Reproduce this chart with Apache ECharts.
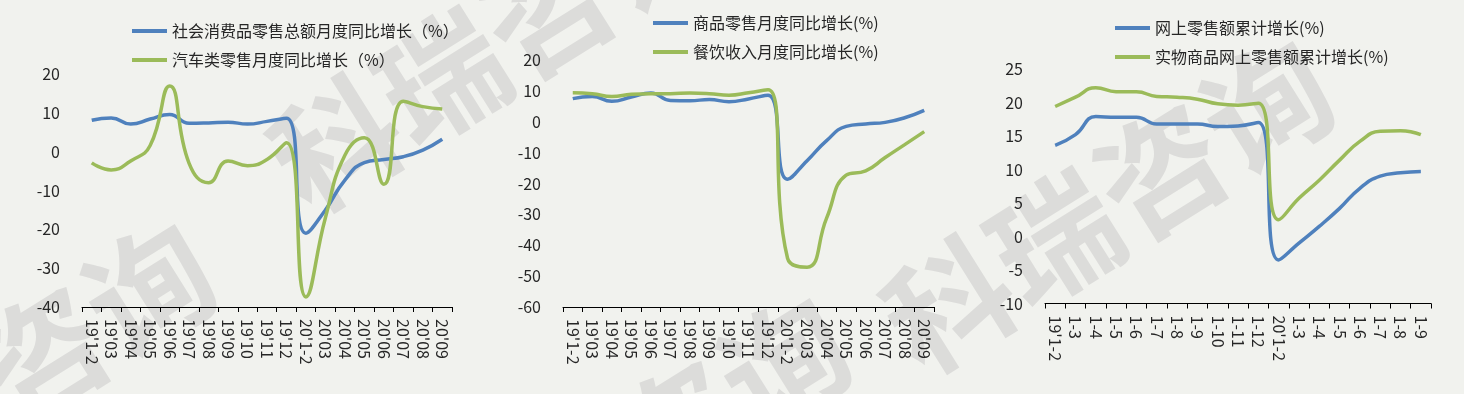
<!DOCTYPE html>
<html><head><meta charset="utf-8">
<script src="https://cdn.jsdelivr.net/npm/echarts@6/dist/echarts.min.js"></script>
<style>html,body{margin:0;padding:0;background:#f1f2ee}#c{width:1464px;height:394px}</style>
</head><body><div id="c"></div>
<script>
// Categories
const cats1 = ["19'1-2","19'03","19'04","19'05","19'06","19'07","19'08","19'09","19'10","19'11","19'12","20'1-2","20'03","20'04","20'05","20'06","20'07","20'08","20'09"];
const cats2 = cats1.slice();
const cats3 = ["19'1-2","1-3","1-4","1-5","1-6","1-7","1-8","1-9","1-10","1-11","1-12","20'1-2","1-3","1-4","1-5","1-6","1-7","1-8","1-9"];
// Panel 1
const retailTotal = [8.1, 8.7, 7.1, 8.4, 9.6, 7.3, 7.4, 7.6, 7.1, 7.8, 8.6, -21.0, -15.0, -7.3, -2.8, -2.0, -1.3, 0.4, 3.2];
const autoRetail = [-2.9, -4.7, -2.4, 1.6, 16.9, -3.0, -8.0, -2.4, -3.6, -2.0, 2.3, -37.4, -17.0, -0.9, 3.6, -8.4, 13.0, 11.6, 11.0];
// Panel 2
const goodsRetail = [7.5, 8.2, 6.6, 8.0, 9.3, 6.9, 6.8, 7.2, 6.5, 7.4, 8.6, -18.6, -12.6, -6.1, -1.5, -0.7, -0.2, 1.3, 3.7];
const catering = [9.4, 9.1, 8.2, 8.9, 9.1, 9.1, 9.3, 9.1, 8.6, 9.4, 10.4, -44.2, -47.1, -31.2, -17.3, -15.9, -11.6, -7.4, -3.2];
// Panel 3
const onlineRetail = [13.6, 15.2, 17.9, 17.8, 17.8, 16.8, 16.8, 16.8, 16.4, 16.5, 17.0, -3.5, -1.0, 1.5, 4.2, 7.2, 9.0, 9.5, 9.7];
const physicalOnline = [19.4, 20.8, 22.2, 21.6, 21.6, 20.9, 20.8, 20.5, 19.8, 19.6, 19.9, 2.5, 5.7, 8.4, 11.4, 14.2, 15.7, 15.8, 15.2];
// Names
const names = [
  ["社会消费品零售总额月度同比增长（%）", "汽车类零售月度同比增长（%）"],
  ["商品零售月度同比增长(%)", "餐饮收入月度同比增长(%)"],
  ["网上零售额累计增长(%)", "实物商品网上零售额累计增长(%)"]
];
const yMin = [-40, -60, -10], yMax = [20, 20, 25], yInt = [10, 10, 5];
const watermarkText = '科瑞咨询';

const BLUE = '#4f81bd', GREEN = '#9bbb59';
const FONT = '"Noto Sans CJK SC", "Noto Sans", sans-serif';
const TXT = '#262626';

const grids = [
  {left: 82, top: 74, width: 370, height: 233},
  {left: 563, top: 60, width: 371, height: 247},
  {left: 1045, top: 69, width: 386, height: 234.5}
];
const legends = [
  {left: 127, top: 18},
  {left: 648, top: 10},
  {left: 1110, top: 15}
];
const catsAll = [cats1, cats2, cats3];
const dataAll = [[retailTotal, autoRetail], [goodsRetail, catering], [onlineRetail, physicalOnline]];

const option = {
  backgroundColor: '#f1f2ee',
  animation: false,
  textStyle: {fontFamily: FONT},
  graphic: [],
  grid: grids,
  legend: legends.map((l, i) => ({
    left: l.left, top: l.top, orient: 'vertical', icon: 'rect', itemWidth: 35, itemHeight: 4, itemGap: 13,
    data: names[i],
    textStyle: {fontSize: 16, color: TXT, fontFamily: FONT}
  })),
  xAxis: catsAll.map((c, i) => ({
    type: 'category', gridIndex: i, data: c, boundaryGap: true,
    axisLine: {onZero: false, lineStyle: {color: '#000', width: 1}},
    axisTick: {show: true, length: 5, lineStyle: {color: '#000'}},
    axisLabel: {interval: 0, rotate: -90, margin: 12, fontSize: 16, color: TXT, fontFamily: FONT},
    splitLine: {show: false}
  })),
  yAxis: yMin.map((m, i) => ({
    type: 'value', gridIndex: i, min: m, max: yMax[i], interval: yInt[i],
    axisLine: {show: false}, axisTick: {show: false}, splitLine: {show: false},
    axisLabel: {margin: 22, fontSize: 16, color: TXT, fontFamily: FONT}
  })),
  series: []
};
for (let i = 0; i < 3; i++) {
  [BLUE, GREEN].forEach((col, j) => {
    option.series.push({
      type: 'line', name: names[i][j], xAxisIndex: i, yAxisIndex: i,
      data: dataAll[i][j], smooth: true, symbol: 'none',
      lineStyle: {color: col, width: 3.5}, itemStyle: {color: col}
    });
  });
}
// Watermark (decorative)
const wm = [[495, 44], [1108, 205], [-10, 388], [625, 462]];
wm.forEach(p => {
  option.graphic.push({
    type: 'text', x: p[0], y: p[1], rotation: 0.56, z: -10, silent: true,
    style: {text: watermarkText, fill: '#dcdcda', font: 'bold 125px "Noto Sans CJK SC"', align: 'center', verticalAlign: 'middle'}
  });
});
const chart = echarts.init(document.getElementById('c'), null, {renderer: 'canvas'});
chart.setOption(option);
</script></body></html>
